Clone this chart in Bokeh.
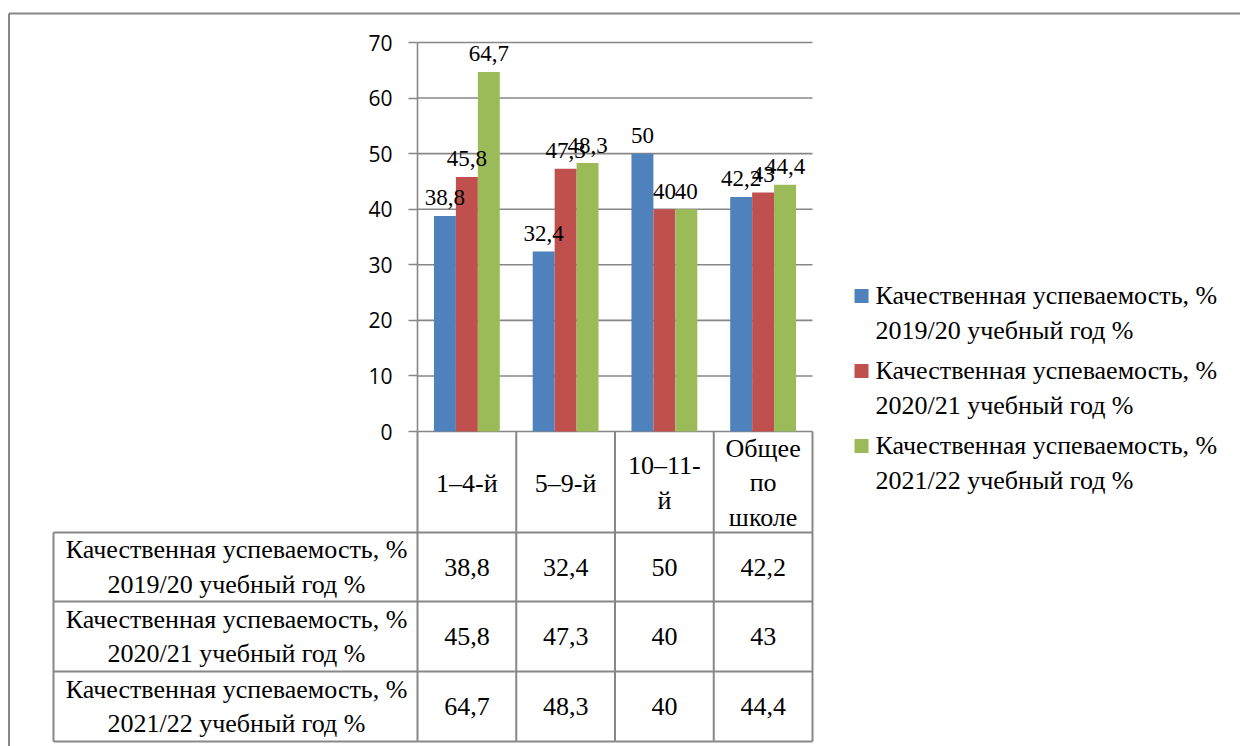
from bokeh.plotting import figure
from bokeh.models import Range1d, LinearAxis, FixedTicker, ColumnDataSource
from bokeh.embed import file_html
from bokeh.resources import INLINE
from bokeh.core.properties import value

# ---------------- data ----------------
categories = ["1–4-й", "5–9-й", "10–11-й", "Общее по школе"]
category_labels = ["1–4-й", "5–9-й", "10–11-\nй", "Общее\nпо\nшколе"]
series_names = [
    "Качественная успеваемость, % 2019/20 учебный год %",
    "Качественная успеваемость, % 2020/21 учебный год %",
    "Качественная успеваемость, % 2021/22 учебный год %",
]
values_2019_20 = [38.8, 32.4, 50, 42.2]
values_2020_21 = [45.8, 47.3, 40, 43]
values_2021_22 = [64.7, 48.3, 40, 44.4]
y_ticks = [0, 10, 20, 30, 40, 50, 60, 70]

series = [values_2019_20, values_2020_21, values_2021_22]
colors = ["#4F81BD", "#C0504D", "#9BBB59"]
GRID = "#878787"
SERIF = "Liberation Serif"

# ---------------- geometry (pixels of the page) ----------------
W, H = 1240, 746
PAGE = 0
AXIS_PX = 417.0      # x of value axis
COL_PX = 98.75       # width of one category
ZERO_PX = 431.0      # y of value 0
UNIT_PX = 389.0 / 70  # pixels per value unit


def X(px):
    return (px - AXIS_PX) / COL_PX


def Y(py):
    return (ZERO_PX - py) / UNIT_PX


def fmt(v):
    return f"{v:g}".replace(".", ",")


def wrap(name):
    return name.replace("% ", "%\n", 1)


n = len(categories)

p = figure(width=W, height=H, output_backend="svg", toolbar_location=None,
           x_range=Range1d(X(PAGE), X(PAGE + W)),
           y_range=Range1d(Y(PAGE + H), Y(PAGE)),
           x_axis_type=None, y_axis_type=None,
           min_border=0, min_border_left=0, min_border_right=0,
           min_border_top=0, min_border_bottom=0,
           outline_line_color=None,
           background_fill_color="white", border_fill_color="white")

# outer chart border (top and left visible)
p.segment(x0=[X(8.5), X(8.5)], y0=[Y(13), Y(13)],
          x1=[X(PAGE + W), X(8.5)], y1=[Y(13), Y(PAGE + H)],
          line_color=GRID, line_width=2)

# horizontal gridlines
p.segment(x0=[0] * len(y_ticks), x1=[n] * len(y_ticks), y0=y_ticks, y1=y_ticks,
          line_color=GRID, line_width=1.6)

# bars
bw = 1 / 4.5
sources = []
for k, (vals, col) in enumerate(zip(series, colors)):
    xs = [i + 0.5 + (k - 1) * bw for i in range(n)]
    src = ColumnDataSource(dict(x=xs, top=vals, label=[fmt(v) for v in vals]))
    sources.append(src)
    p.vbar(x="x", top="top", bottom=0, width=bw, fill_color=col,
           line_color=None, source=src)

# data labels
for src in sources:
    p.text(x="x", y="top", text="label", source=src, y_offset=-18,
           text_align="center", text_baseline="alphabetic",
           text_font=value(SERIF), text_font_size="23px", text_color="black")

# value axis
yaxis = LinearAxis(fixed_location=0, bounds=(0, 70),
                   ticker=FixedTicker(ticks=y_ticks),
                   axis_line_color=GRID, axis_line_width=1.6,
                   major_tick_line_color=GRID, major_tick_line_width=1.6,
                   major_tick_out=9, major_tick_in=0,
                   minor_tick_out=0, minor_tick_in=0,
                   major_label_standoff=16,
                   major_label_text_font="Open Sans",
                   major_label_text_font_size="21px",
                   major_label_text_color="black")
p.add_layout(yaxis, "left")

# ---------------- data table ----------------
tbl_left = X(53)
header_bottom = Y(532)
row_edges = [Y(532), Y(601), Y(671), Y(741)]
tbl_bottom = row_edges[-1]

# vertical lines
vx0 = [float(i) for i in range(n + 1)] + [tbl_left]
vy0 = [0.0] * (n + 1) + [header_bottom]
p.segment(x0=vx0, x1=vx0, y0=vy0, y1=[tbl_bottom] * len(vx0),
          line_color=GRID, line_width=2)
# horizontal lines
p.segment(x0=[tbl_left] * len(row_edges), x1=[n] * len(row_edges),
          y0=row_edges, y1=row_edges, line_color=GRID, line_width=2)

# category header cells
p.text(x=[i + 0.5 for i in range(n)], y=[Y(482.5)] * n, text=category_labels,
       text_align="center", text_baseline="middle", text_line_height=1.2,
       text_font=value(SERIF), text_font_size="26px", text_color="black")

row_centers = [(row_edges[r] + row_edges[r + 1]) / 2 for r in range(len(series))]

# row headers
p.text(x=[X(236)] * len(series), y=row_centers,
       text=[wrap(s) for s in series_names],
       text_align="center", text_baseline="middle", text_line_height=1.2,
       text_font=value(SERIF), text_font_size="26px", text_color="black")

# values
for r, vals in enumerate(series):
    p.text(x=[i + 0.5 for i in range(n)], y=[row_centers[r]] * n,
           text=[fmt(v) for v in vals],
           text_align="center", text_baseline="middle",
           text_font=value(SERIF), text_font_size="26px", text_color="black")

# ---------------- legend ----------------
leg_sq_y = [Y(295.5 + 75 * k) for k in range(len(series))]
leg_tx_y = [Y(312.5 + 75 * k) for k in range(len(series))]
p.rect(x=[X(861)] * len(series), y=leg_sq_y, width=14, height=14,
       width_units="screen", height_units="screen",
       fill_color=colors, line_color=None)
p.text(x=[X(875)] * len(series), y=leg_tx_y,
       text=[wrap(s) for s in series_names],
       text_align="left", text_baseline="middle", text_line_height=1.2,
       text_font=value(SERIF), text_font_size="26px", text_color="black")

open("out.html", "w").write(file_html(p, INLINE))
